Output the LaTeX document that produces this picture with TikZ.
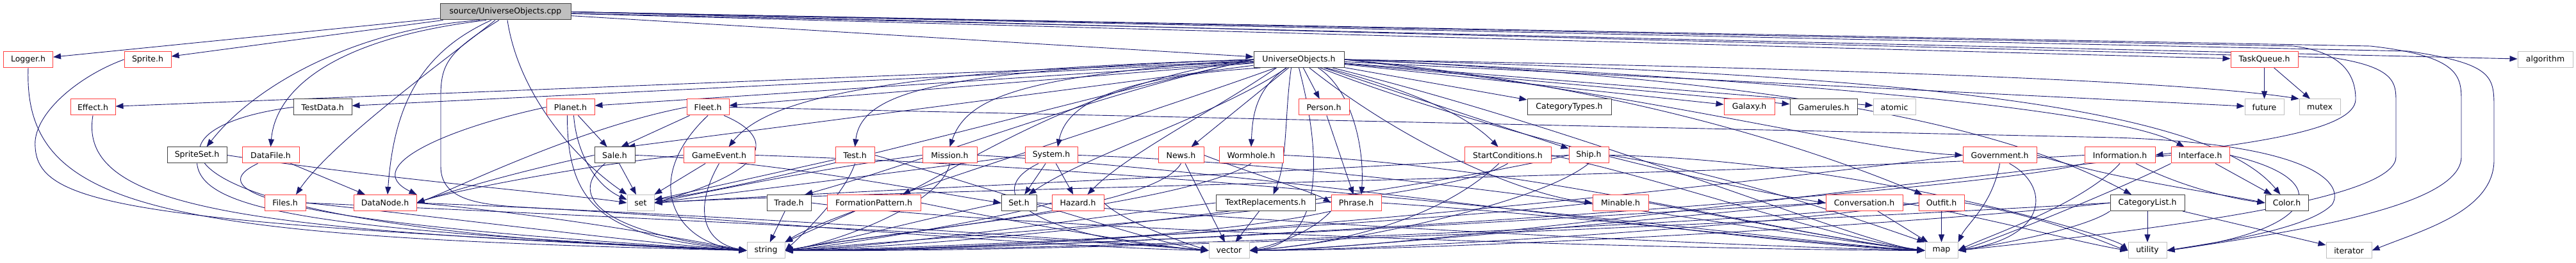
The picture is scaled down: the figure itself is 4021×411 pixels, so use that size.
\documentclass[tikz,border=0pt]{standalone}
\usepackage{fontspec}
\setmainfont{DejaVu Sans}
\usetikzlibrary{arrows.meta}
\pgfdeclarelayer{background}
\pgfsetlayers{background,main}
\definecolor{edgec}{HTML}{191970}
\definecolor{redb}{HTML}{FF4040}
\definecolor{blkb}{HTML}{404040}
\definecolor{gryb}{HTML}{BFBFBF}
\tikzset{
 nb/.style={draw, line width=1pt, minimum height=25pt, inner sep=0pt, font=\fontsize{12.5}{14}\selectfont, fill=white},
 rn/.style={nb, draw=redb},
 kn/.style={nb, draw=blkb},
 gn/.style={nb, draw=gryb},
 rootn/.style={nb, draw=blkb, fill=gryb},
 e/.style={draw=edgec, line width=0.9pt, -{Triangle[length=12pt,width=9pt]}},
}
\begin{document}
\begin{tikzpicture}[x=1pt,y=-1pt]
\useasboundingbox (0,0) rectangle (4021,411);
% row 0
\node[rootn, minimum width=204pt] (root) at (789,18.5) {source/UniverseObjects.cpp};
% row 1
\node[rn, minimum width=77pt] (logger) at (44,93) {Logger.h};
\node[rn, minimum width=73pt] (sprite) at (230.5,93) {Sprite.h};
\node[kn, minimum width=141pt] (uo) at (2027.5,93) {UniverseObjects.h};
\node[rn, minimum width=105pt] (taskq) at (3534.5,93) {TaskQueue.h};
\node[gn, minimum width=86pt] (algorithm) at (3973,93) {algorithm};
% row 2
\node[rn, minimum width=70pt] (effect) at (145,167.5) {Effect.h};
\node[kn, minimum width=91pt] (testdata) at (503.5,167.5) {TestData.h};
\node[rn, minimum width=75pt] (planet) at (890.5,167.5) {Planet.h};
\node[rn, minimum width=66pt] (fleet) at (1105,167.5) {Fleet.h};
\node[rn, minimum width=79pt] (person) at (2066.5,167.5) {Person.h};
\node[kn, minimum width=131pt] (cattypes) at (2449.5,167.5) {CategoryTypes.h};
\node[rn, minimum width=79pt] (galaxy) at (2730.5,167.5) {Galaxy.h};
\node[kn, minimum width=105pt] (gamerules) at (2846.5,167.5) {Gamerules.h};
\node[gn, minimum width=66pt] (atomic) at (2957,167.5) {atomic};
\node[gn, minimum width=61pt] (future) at (3534.5,167.5) {future};
\node[gn, minimum width=64pt] (mutex) at (3621,167.5) {mutex};
% row 3
\node[kn, minimum width=93pt] (spriteset) at (307.5,242.5) {SpriteSet.h};
\node[rn, minimum width=89pt] (datafile) at (422.5,242.5) {DataFile.h};
\node[kn, minimum width=63pt] (sale) at (959.5,242.5) {Sale.h};
\node[rn, minimum width=111pt] (gameevent) at (1122.5,242.5) {GameEvent.h};
\node[rn, minimum width=61pt] (test) at (1334.5,242.5) {Test.h};
\node[rn, minimum width=85pt] (mission) at (1482.5,242.5) {Mission.h};
\node[rn, minimum width=82pt] (system) at (1641,242.5) {System.h};
\node[rn, minimum width=71pt] (news) at (1843.5,242.5) {News.h};
\node[rn, minimum width=100pt] (wormhole) at (1953,242.5) {Wormhole.h};
\node[rn, minimum width=135pt] (startcond) at (2353.5,242.5) {StartConditions.h};
\node[rn, minimum width=62pt] (ship) at (2480,242.5) {Ship.h};
\node[rn, minimum width=115pt] (government) at (3121.5,242.5) {Government.h};
\node[rn, minimum width=110pt] (information) at (3309,242.5) {Information.h};
\node[rn, minimum width=91pt] (interface) at (3434.5,242.5) {Interface.h};
% row 4
\node[rn, minimum width=64pt] (files) at (445,317) {Files.h};
\node[rn, minimum width=98pt] (datanode) at (601,317) {DataNode.h};
\node[gn, minimum width=42pt] (set) at (1000,317) {set};
\node[kn, minimum width=69pt] (trade) at (1231.5,317) {Trade.h};
\node[rn, minimum width=146pt] (formation) at (1364,317) {FormationPattern.h};
\node[kn, minimum width=55pt] (seth) at (1590.5,317) {Set.h};
\node[rn, minimum width=81pt] (hazard) at (1682.5,317) {Hazard.h};
\node[kn, minimum width=155pt] (textrep) at (1975.5,317) {TextReplacements.h};
\node[rn, minimum width=78pt] (phrase) at (2117,317) {Phrase.h};
\node[rn, minimum width=87pt] (minable) at (2529.5,317) {Minable.h};
\node[rn, minimum width=120pt] (conversation) at (2910,317) {Conversation.h};
\node[rn, minimum width=71pt] (outfit) at (3030.5,317) {Outfit.h};
\node[kn, minimum width=116pt] (catlist) at (3352,317) {CategoryList.h};
\node[kn, minimum width=67pt] (color) at (3569.5,317) {Color.h};
% row 5
\node[gn, minimum width=59pt] (string) at (1195.5,391.5) {string};
\node[gn, minimum width=63pt] (vector) at (1918.5,391.5) {vector};
\node[gn, minimum width=51pt] (map) at (3030.5,391.5) {map};
\node[gn, minimum width=60pt] (utility) at (3352,391.5) {utility};
\node[gn, minimum width=71pt] (iterator) at (3666.5,391.5) {iterator};

\begin{pgfonlayer}{background}
% ---------- edges from the root ----------
\draw[e] (root) -- (uo);
\draw[e] (root) -- (logger);
\draw[e] (root) -- (sprite);
\draw[e] (root) -- (taskq);
\draw[e] (root) -- (algorithm);
\draw[e] ([xshift=-40pt]root.south) .. controls (560,45) and (400,130) .. ([xshift=15pt]spriteset.north);
\draw[e] ([xshift=-30pt]root.south) .. controls (520,60) and (430,140) .. (datafile.north);
\draw[e] ([xshift=-16pt]root.south) .. controls (700,90) and (520,220) .. ([xshift=17pt]files.north);
\draw[e] ([xshift=-22pt]root.south) .. controls (660,80) and (615,160) .. ([xshift=4pt]datanode.north);
\draw[e] ([xshift=-10pt]root.south) .. controls (700,80) and (688,100) .. (688,150) -- (688,260) .. controls (688,310) and (740,320) .. (820,324) .. controls (1200,345) and (1600,385) .. (vector.west);
\draw[e] ([xshift=3pt]root.south) .. controls (810,150) and (900,250) .. (set.north west);
\draw[e] (root.east) -- (3580,72) .. controls (3660,82) and (3677,120) .. (3677,155) .. controls (3677,205) and (3500,225) .. (information.east);
\draw[e] (root.east) -- (3760,80) .. controls (3893,100) and (3893,120) .. (3893,170) -- (3893,250) .. controls (3893,330) and (3780,360) .. (iterator.east);
\draw[e] (root.east) -- (3700,72) .. controls (3842,88) and (3842,120) .. (3842,160) -- (3842,245) .. controls (3842,320) and (3600,360) .. (utility.east);
\draw[e] (root.east) -- (3640,90) .. controls (3740,105) and (3740,130) .. (3740,160) -- (3740,245) .. controls (3740,300) and (3500,345) .. (map.east);

% ---------- edges from UniverseObjects.h ----------
\draw[e] (uo) -- (person);
\draw[e] ([xshift=30pt]uo.south) .. controls (2110,140) and (2130,230) .. ([xshift=8pt]phrase.north);
\draw[e] ([xshift=42pt]uo.south) .. controls (2200,140) and (2290,180) .. ([xshift=-15pt]startcond.north);
\draw[e] ([xshift=-12pt]uo.south) .. controls (2005,180) and (2010,250) .. ([xshift=12pt]textrep.north);
\draw[e] ([xshift=-20pt]uo.south) .. controls (1960,140) and (1955,180) .. (wormhole.north);
\draw[e] (uo) -- (news);
\draw[e] ([xshift=-35pt]uo.south) .. controls (1900,170) and (1760,240) .. ([xshift=15pt]hazard.north);
\draw[e] ([xshift=-60pt]uo.south) .. controls (1750,120) and (1665,160) .. ([xshift=10pt]system.north);
\draw[e] (uo.west) .. controls (1600,118) and (1510,150) .. (mission.north);
\draw[e] (uo.west) .. controls (1480,110) and (1345,140) .. (test.north);
\draw[e] (uo.west) .. controls (1400,110) and (1200,150) .. ([xshift=15pt]gameevent.north);
\draw[e] (uo.west) .. controls (1700,125) and (1500,260) .. ([xshift=45pt]formation.north);
\draw[e] (uo) -- (fleet);
\draw[e] (uo) -- (planet);
\draw[e] (uo) -- ([xshift=20pt]sale.north);
\draw[e] (uo) -- (testdata);
\draw[e] (uo) -- (effect);
\draw[e] (uo) -- (cattypes);
\draw[e] (uo) -- (galaxy);
\draw[e] (uo) -- (gamerules);
\draw[e] (uo) -- (atomic);
\draw[e] (uo) -- (future);
\draw[e] (uo.east) .. controls (2800,105) and (3400,125) .. (mutex.north west);
\draw[e] (uo) -- (ship);
\draw[e] (uo.east) .. controls (2600,150) and (2900,235) .. (government.west);
\draw[e] (uo.east) .. controls (2800,125) and (3300,170) .. ([xshift=-25pt]interface.north);
\draw[e] (uo) .. controls (2300,200) and (2700,295) .. (conversation.west);
\draw[e] (uo.east) .. controls (2500,130) and (2800,220) .. ([xshift=-30pt]outfit.north);
\draw[e] (uo) .. controls (2200,230) and (2380,305) .. (minable.west);
\draw[e] (uo.east) .. controls (2700,120) and (3100,180) .. ([xshift=-25pt]catlist.north);
\draw[e] (uo.east) .. controls (3000,115) and (3450,170) .. ([xshift=-10pt]color.north);
\draw[e] (uo.west) .. controls (1700,150) and (1450,250) .. ([xshift=25pt]trade.north);
\draw[e] (uo) .. controls (1900,180) and (1700,240) .. ([xshift=15pt]seth.north);
\draw[e] (uo.west) .. controls (1700,150) and (1200,290) .. ([yshift=5pt]set.east);
\draw[e] (uo) .. controls (1700,210) and (1300,330) .. (string.north east);
\draw[e] (uo.south) .. controls (2065,250) and (2065,380) .. (vector.east);
\draw[e] (uo) .. controls (2500,210) and (2900,380) .. (map.west);

% ---------- other edges ----------
\draw[e] (logger.south) .. controls (36,330) and (250,370) .. (string.west);
\draw[e] (sprite.west) .. controls (120,120) and (50,180) .. (55,230) .. controls (60,320) and (200,348) .. (string.west);
\draw[e] (effect.south) .. controls (120,330) and (400,360) .. (string.west);
\draw[e] (testdata.west) .. controls (200,200) and (200,360) .. (string.west);
\draw[e] (spriteset.south) .. controls (315,330) and (500,360) .. (string.west);
\draw[e] (spriteset.east) .. controls (600,280) and (900,305) .. (set.west);
\draw[e] (datafile) -- (datanode);
\draw[e] ([xshift=-20pt]datafile.south) .. controls (330,290) and (350,345) .. (string.west);
\draw[e] (files.east) .. controls (700,340) and (1000,380) .. (string.west);
\draw[e] (files.east) .. controls (1000,340) and (1700,375) .. (vector.west);
\draw[e] (datanode.east) .. controls (900,340) and (1100,380) .. (string.west);
\draw[e] (datanode.east) .. controls (1100,335) and (1650,370) .. (vector.west);
\draw[e] (planet) -- (sale);
\draw[e] ([xshift=5pt]planet.south) .. controls (900,240) and (930,290) .. ([yshift=5pt]set.west);
\draw[e] ([xshift=-5pt]planet.south) .. controls (885,330) and (950,370) .. (string.west);
\draw[e] (planet.west) .. controls (700,200) and (560,260) .. (datanode.north east);
\draw[e] (fleet) -- ([xshift=10pt]sale.north);
\draw[e] ([xshift=25pt]fleet.south) .. controls (1200,210) and (1220,260) .. (set.east);
\draw[e] (fleet.south) .. controls (1000,280) and (1050,380) .. (string.west);
\draw[e] (fleet.west) .. controls (900,200) and (700,300) .. (datanode.east);
\draw[e] (fleet.east) -- (3300,215) .. controls (3620,225) and (3660,290) .. (3640,320) .. controls (3600,360) and (3450,380) .. (utility.east);
\draw[e] (sale) -- (set);
\draw[e] ([xshift=-15pt]sale.south) .. controls (890,300) and (920,360) .. (string.west);
\draw[e] (sale.west) .. controls (800,270) and (700,300) .. (datanode.east);
\draw[e] (sale.east) .. controls (1200,250) and (1450,300) .. (seth.west);
\draw[e] (gameevent) -- (set);
\draw[e] (gameevent.west) .. controls (900,260) and (700,300) .. (datanode.east);
\draw[e] (gameevent.south) .. controls (1080,330) and (1100,380) .. (string.west);
\draw[e] (gameevent.east) .. controls (2000,270) and (2800,380) .. (map.west);
\draw[e] (test) -- (set);
\draw[e] (test.south) .. controls (1320,300) and (1260,360) .. (string.east);
\draw[e] (test.east) .. controls (1500,280) and (1800,380) .. (vector.west);
\draw[e] (mission.west) .. controls (1300,260) and (1100,300) .. (set.east);
\draw[e] (mission.south) .. controls (1470,320) and (1300,380) .. (string.east);
\draw[e] (mission.east) .. controls (2000,270) and (2700,380) .. (map.west);
\draw[e] (system) -- (seth);
\draw[e] (system) -- (hazard);
\draw[e] (system.west) .. controls (1400,270) and (1150,300) .. (set.east);
\draw[e] ([xshift=-20pt]system.south) .. controls (1530,300) and (1600,370) .. (vector.west);
\draw[e] (system.east) .. controls (2200,260) and (2800,370) .. (map.west);
\draw[e] (news) -- (vector);
\draw[e] (news.south) .. controls (1800,330) and (1400,360) .. (string.east);
\draw[e] (news.east) .. controls (1950,270) and (2050,300) .. (phrase.west);
\draw[e] (wormhole.south) .. controls (1850,320) and (1400,360) .. (string.east);
\draw[e] (wormhole.east) .. controls (2400,260) and (2800,370) .. (map.west);
\draw[e] (textrep) -- (vector);
\draw[e] (textrep.west) .. controls (1700,340) and (1400,385) .. (string.east);
\draw[e] (phrase.south west) .. controls (2050,360) and (2000,380) .. (vector.east);
\draw[e] (phrase.south west) .. controls (1900,370) and (1500,390) .. (string.east);
\draw[e] (phrase.east) .. controls (2500,340) and (2800,380) .. (map.west);
\draw[e] (person) -- (phrase);
\draw[e] (startcond.south) .. controls (2250,320) and (1600,360) .. (string.east);
\draw[e] (startcond) .. controls (2250,340) and (2100,380) .. (vector.east);
\draw[e] (startcond.east) .. controls (2600,280) and (2850,370) .. (map.west);
\draw[e] (ship.west) .. controls (2200,300) and (1600,380) .. (string.east);
\draw[e] (ship.south) .. controls (2400,320) and (2100,380) .. (vector.east);
\draw[e] (ship.east) .. controls (2700,270) and (2950,360) .. (map.north west);
\draw[e] (ship.west) .. controls (2000,270) and (1300,300) .. (set.east);
\draw[e] (ship.east) .. controls (2900,250) and (3300,370) .. (utility.west);
\draw[e] (minable.east) .. controls (2700,340) and (2900,380) .. (map.west);
\draw[e] (minable.west) .. controls (2300,340) and (1600,385) .. (string.east);
\draw[e] (conversation) -- (map);
\draw[e] (conversation.west) .. controls (2600,330) and (1700,390) .. (string.east);
\draw[e] (conversation.west) .. controls (2600,340) and (2100,390) .. (vector.east);
\draw[e] (conversation.east) .. controls (3100,340) and (3250,380) .. (utility.west);
\draw[e] (outfit) -- (map);
\draw[e] (outfit.west) .. controls (2800,345) and (1800,390) .. (string.east);
\draw[e] (outfit.west) .. controls (2800,350) and (2200,390) .. (vector.east);
\draw[e] (outfit.east) .. controls (3200,340) and (3300,385) .. (utility.west);
\draw[e] (government.south) .. controls (3110,320) and (3070,350) .. (map.north east);
\draw[e] ([xshift=15pt]government.south) .. controls (3200,290) and (3200,370) .. (map.east);
\draw[e] (government.west) .. controls (2700,290) and (1800,390) .. (string.east);
\draw[e] (government.east) .. controls (3300,280) and (3450,300) .. (color.west);
\draw[e] (information) .. controls (3400,290) and (3480,310) .. (color.west);
\draw[e] (information.west) .. controls (2800,270) and (1300,300) .. (set.east);
\draw[e] (information.south west) .. controls (3100,300) and (1800,390) .. (string.east);
\draw[e] (information.south) .. controls (3250,320) and (3100,370) .. (map.east);
\draw[e] (interface) -- (color);
\draw[e] (interface.south west) .. controls (3300,300) and (3100,380) .. (map.east);
\draw[e] (interface.east) .. controls (3650,280) and (3620,360) .. (utility.east);
\draw[e] (interface.west) .. controls (3000,280) and (2200,390) .. (vector.east);
\draw[e] (catlist) -- (utility);
\draw[e] (catlist) -- (iterator);
\draw[e] (catlist.west) .. controls (2900,340) and (1800,395) .. (string.east);
\draw[e] (catlist.west) .. controls (3000,350) and (2300,390) .. (vector.east);
\draw[e] (catlist.south west) .. controls (3250,360) and (3100,385) .. (map.east);
\draw[e] (taskq) -- (future);
\draw[e] (taskq) -- (mutex);
\draw[e] (trade) -- (string);
\draw[e] (trade.east) .. controls (1600,360) and (2600,390) .. (map.west);
\draw[e] (formation) -- (string);
\draw[e] (formation.east) .. controls (1600,350) and (1800,385) .. (vector.west);
\draw[e] (seth.west) .. controls (1450,340) and (1300,380) .. (string.east);
\draw[e] (seth.east) .. controls (2000,350) and (2700,385) .. (map.west);
\draw[e] (hazard.west) .. controls (1550,345) and (1300,385) .. (string.east);
\draw[e] (hazard.east) .. controls (1750,345) and (1850,380) .. (vector.west);
\end{pgfonlayer}
\end{tikzpicture}
\end{document}
